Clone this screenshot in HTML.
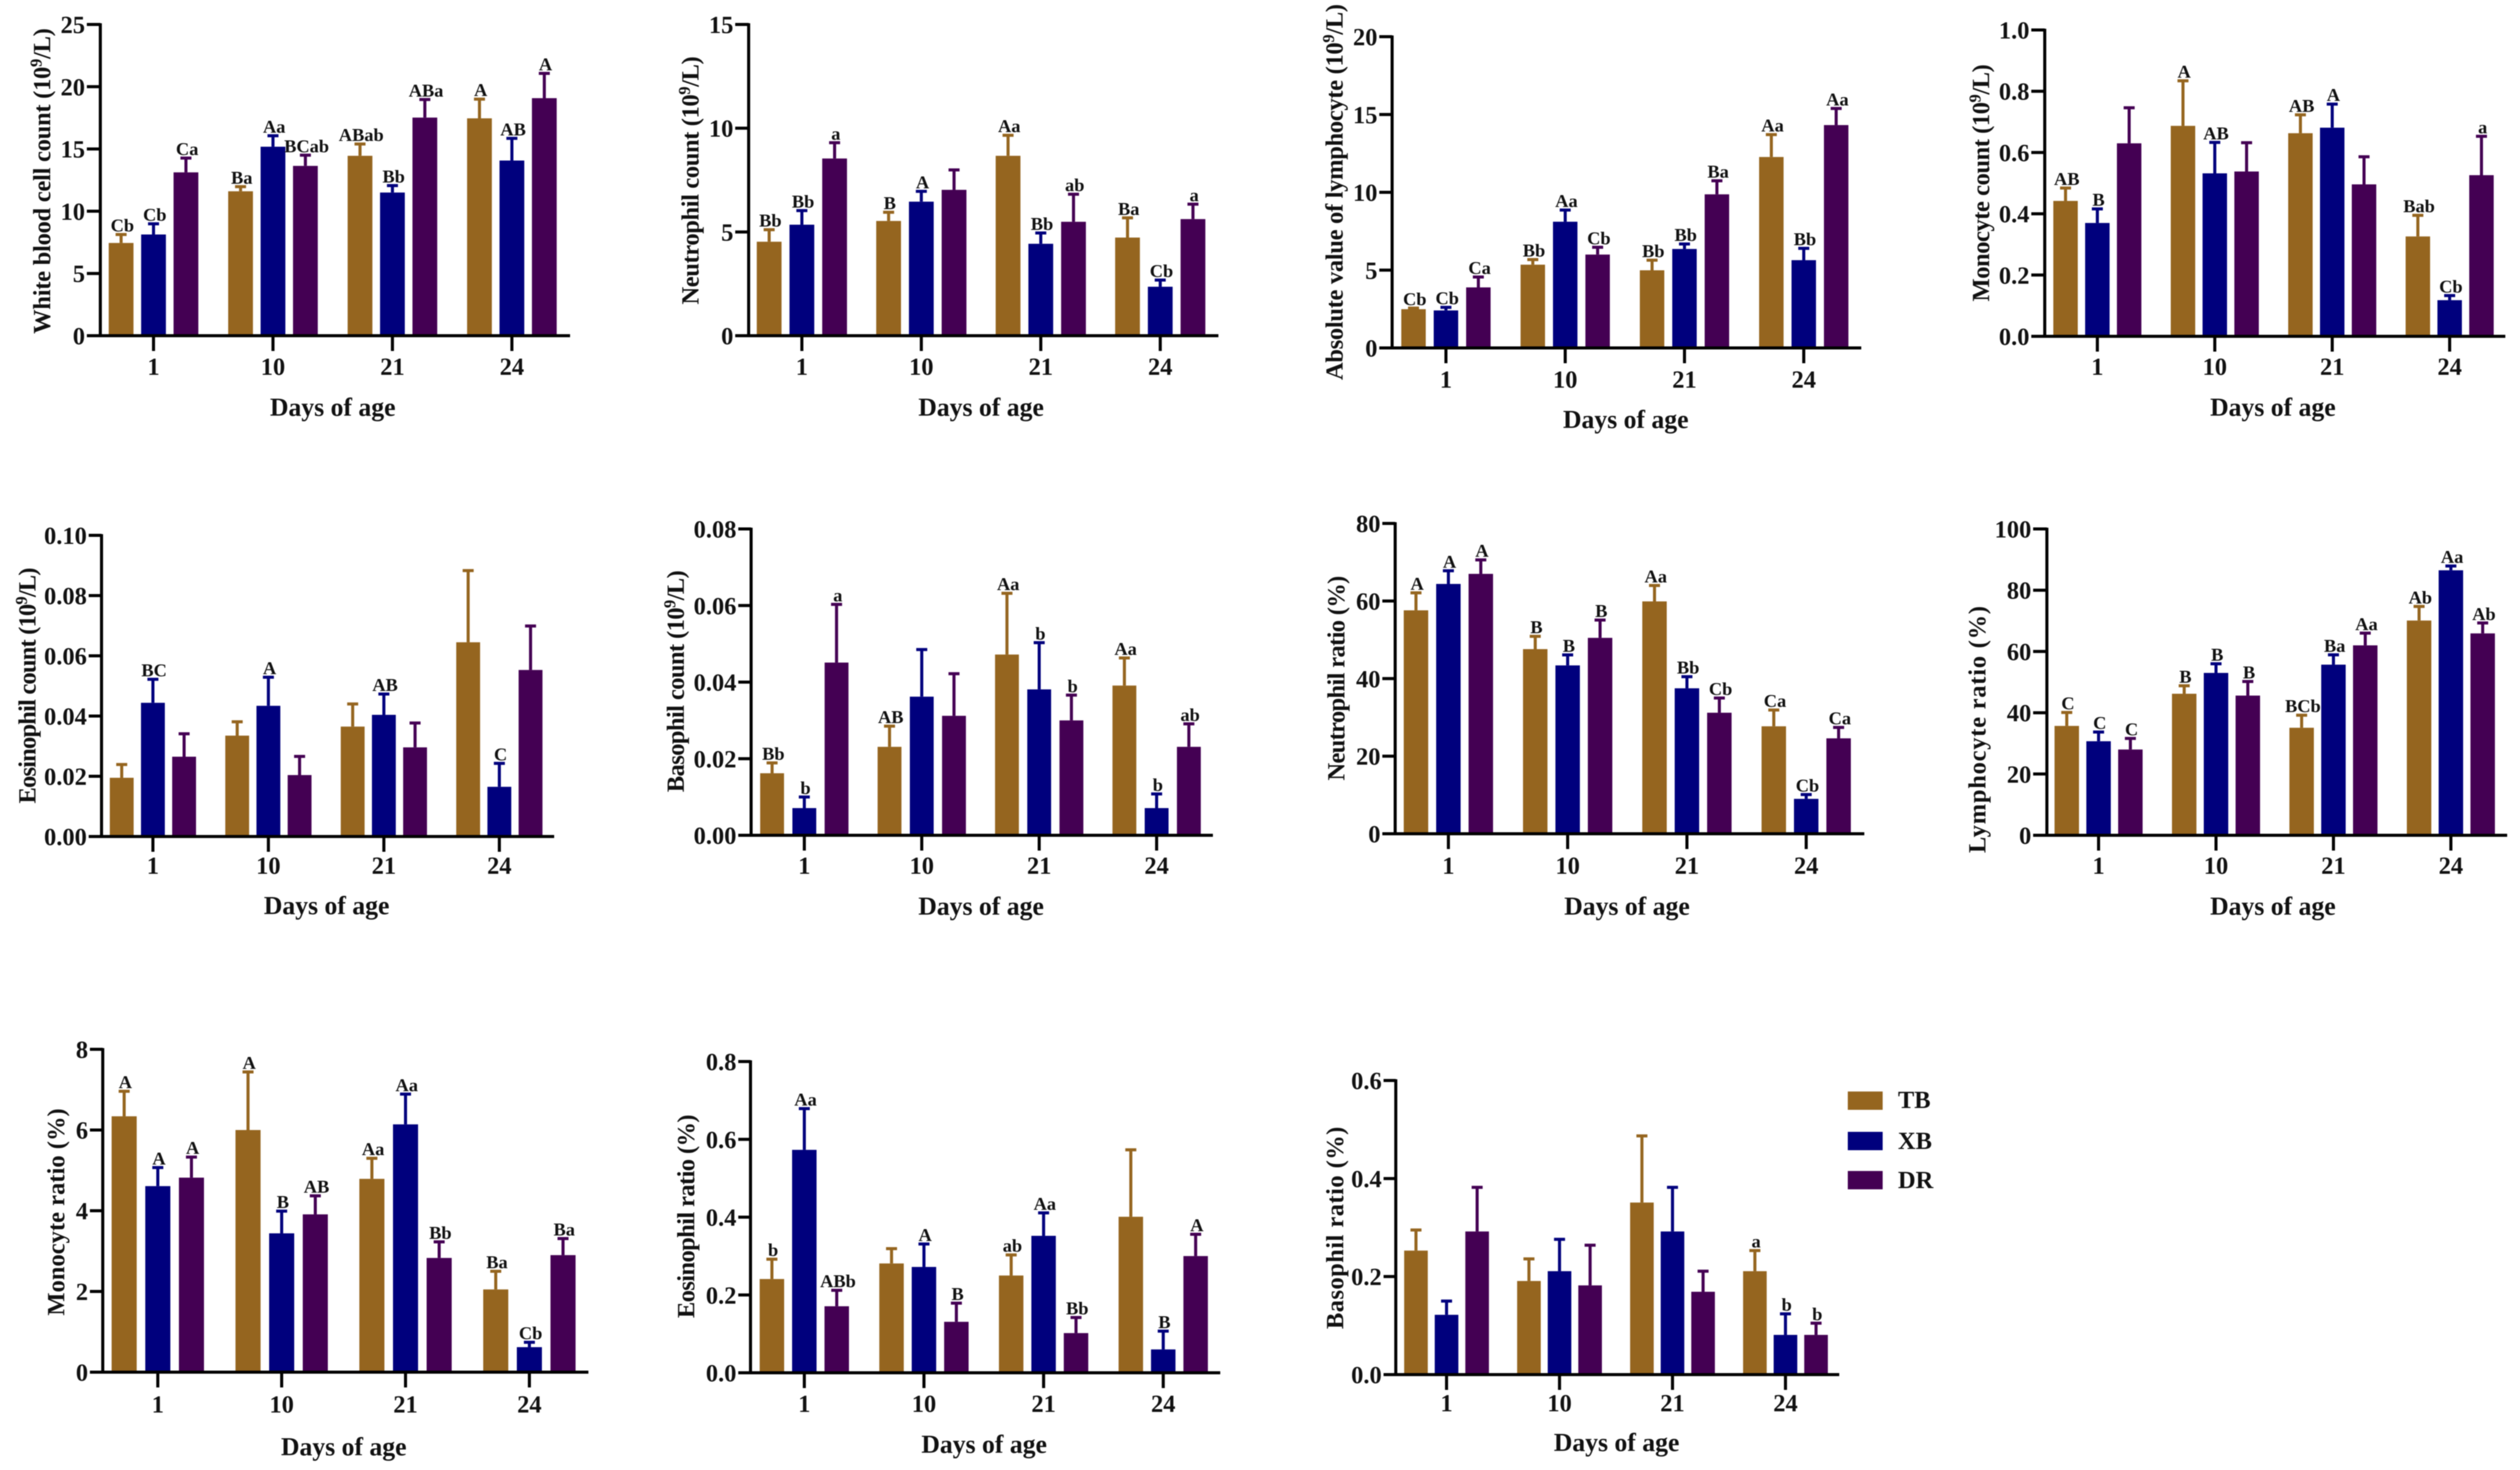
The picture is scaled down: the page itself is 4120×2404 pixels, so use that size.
<!DOCTYPE html>
<html lang="en">
<head>
<meta charset="utf-8">
<title>Blood cell counts and ratios by days of age</title>
<style>
html,body{margin:0;padding:0;background:#fff;}
svg{display:block;filter:blur(0.8px);}
text{font-family:"Liberation Serif",serif;font-weight:bold;fill:#111;}
</style>
</head>
<body>
<svg id="figure" xmlns="http://www.w3.org/2000/svg" width="4120" height="2404" viewBox="0 0 4120 2404">
<rect x="0" y="0" width="4120" height="2404" fill="#fff"/>
<g>
<g><rect x="3021" y="1785" width="57" height="30" fill="#95651f"/><text x="3103" y="1812" font-size="40">TB</text></g>
<g><rect x="3021" y="1851" width="57" height="30" fill="#00007d"/><text x="3103" y="1879" font-size="40">XB</text></g>
<g><rect x="3021" y="1915" width="57" height="30" fill="#440053"/><text x="3103" y="1943" font-size="40">DR</text></g>
</g>
</svg>
<script>
const categories = ['1', '10', '21', '24'];
const seriesNames = ['TB', 'XB', 'DR'];

const wbcTicks = ['0', '5', '10', '15', '20', '25'];
const wbcTB = [7.45, 11.6, 14.45, 17.46];
const wbcXB = [8.13, 15.18, 11.5, 14.07];
const wbcDR = [13.12, 13.64, 17.52, 19.08];
const wbcTBErr = [8.13, 11.97, 15.4, 19.0];
const wbcXBErr = [8.99, 16.06, 12.06, 15.85];
const wbcDRErr = [14.27, 14.5, 18.97, 21.07];
const wbcTBSig = ['Cb', 'Ba', 'ABab', 'A'];
const wbcXBSig = ['Cb', 'Aa', 'Bb', 'AB'];
const wbcDRSig = ['Ca', 'BCab', 'ABa', 'A'];

const neuTicks = ['0', '5', '10', '15'];
const neuTB = [4.53, 5.53, 8.67, 4.73];
const neuXB = [5.35, 6.46, 4.43, 2.36];
const neuDR = [8.54, 7.03, 5.49, 5.62];
const neuTBErr = [5.11, 5.95, 9.66, 5.68];
const neuXBErr = [6.03, 6.96, 4.95, 2.68];
const neuDRErr = [9.3, 7.99, 6.82, 6.34];
const neuTBSig = ['Bb', 'B', 'Aa', 'Ba'];
const neuXBSig = ['Bb', 'A', 'Bb', 'Cb'];
const neuDRSig = ['a', '', 'ab', 'a'];

const lymTicks = ['0', '5', '10', '15', '20'];
const lymTB = [2.49, 5.35, 4.99, 12.27];
const lymXB = [2.41, 8.11, 6.36, 5.64];
const lymDR = [3.89, 6.0, 9.87, 14.32];
const lymTBErr = [2.56, 5.68, 5.64, 13.71];
const lymXBErr = [2.61, 8.86, 6.68, 6.4];
const lymDRErr = [4.56, 6.47, 10.74, 15.39];
const lymTBSig = ['Cb', 'Bb', 'Bb', 'Aa'];
const lymXBSig = ['Cb', 'Aa', 'Bb', 'Bb'];
const lymDRSig = ['Ca', 'Cb', 'Ba', 'Aa'];

const monTicks = ['0.0', '0.2', '0.4', '0.6', '0.8', '1.0'];
const monTB = [0.442, 0.687, 0.663, 0.326];
const monXB = [0.37, 0.532, 0.681, 0.118];
const monDR = [0.63, 0.538, 0.496, 0.526];
const monTBErr = [0.484, 0.834, 0.723, 0.395];
const monXBErr = [0.416, 0.633, 0.758, 0.133];
const monDRErr = [0.746, 0.632, 0.586, 0.653];
const monTBSig = ['AB', 'A', 'AB', 'Bab'];
const monXBSig = ['B', 'AB', 'A', 'Cb'];
const monDRSig = ['', '', '', 'a'];

const eosTicks = ['0.00', '0.02', '0.04', '0.06', '0.08', '0.10'];
const eosTB = [0.0195, 0.0335, 0.0365, 0.0645];
const eosXB = [0.0444, 0.0434, 0.0404, 0.0165];
const eosDR = [0.0265, 0.0204, 0.0296, 0.0553];
const eosTBErr = [0.0239, 0.0381, 0.044, 0.0883];
const eosXBErr = [0.0522, 0.0529, 0.0473, 0.0243];
const eosDRErr = [0.0341, 0.0266, 0.0377, 0.0699];
const eosTBSig = ['', '', '', ''];
const eosXBSig = ['BC', 'A', 'AB', 'C'];
const eosDRSig = ['', '', '', ''];

const basTicks = ['0.00', '0.02', '0.04', '0.06', '0.08'];
const basTB = [0.0162, 0.0231, 0.0472, 0.0391];
const basXB = [0.0071, 0.0362, 0.0381, 0.0071];
const basDR = [0.0451, 0.0312, 0.03, 0.0231];
const basTBErr = [0.0189, 0.0285, 0.0632, 0.0463];
const basXBErr = [0.01, 0.0485, 0.0503, 0.0108];
const basDRErr = [0.0603, 0.0422, 0.0366, 0.0291];
const basTBSig = ['Bb', 'AB', 'Aa', 'Aa'];
const basXBSig = ['b', '', 'b', 'b'];
const basDRSig = ['a', '', 'b', 'ab'];

const neuRatioTicks = ['0', '20', '40', '60', '80'];
const neuRatioTB = [57.6, 47.6, 59.9, 27.7];
const neuRatioXB = [64.4, 43.4, 37.5, 9.0];
const neuRatioDR = [67, 50.5, 31.2, 24.6];
const neuRatioTBErr = [62.1, 50.9, 64, 31.9];
const neuRatioXBErr = [67.8, 46.1, 40.5, 10.1];
const neuRatioDRErr = [70.6, 55.1, 35, 27.4];
const neuRatioTBSig = ['A', 'B', 'Aa', 'Ca'];
const neuRatioXBSig = ['A', 'B', 'Bb', 'Cb'];
const neuRatioDRSig = ['A', 'B', 'Cb', 'Ca'];

const lymRatioTicks = ['0', '20', '40', '60', '80', '100'];
const lymRatioTB = [35.7, 46.2, 35.1, 70.1];
const lymRatioXB = [30.7, 53, 55.7, 86.5];
const lymRatioDR = [28, 45.6, 62, 65.9];
const lymRatioTBErr = [40.1, 48.8, 39.2, 74.7];
const lymRatioXBErr = [33.7, 56, 58.9, 87.9];
const lymRatioDRErr = [31.6, 50.2, 66, 69.3];
const lymRatioTBSig = ['C', 'B', 'BCb', 'Ab'];
const lymRatioXBSig = ['C', 'B', 'Ba', 'Aa'];
const lymRatioDRSig = ['C', 'B', 'Aa', 'Ab'];

const monRatioTicks = ['0', '2', '4', '6', '8'];
const monRatioTB = [6.34, 6, 4.79, 2.05];
const monRatioXB = [4.61, 3.44, 6.14, 0.62];
const monRatioDR = [4.82, 3.91, 2.83, 2.9];
const monRatioTBErr = [6.96, 7.44, 5.3, 2.5];
const monRatioXBErr = [5.07, 3.99, 6.89, 0.74];
const monRatioDRErr = [5.33, 4.37, 3.23, 3.31];
const monRatioTBSig = ['A', 'A', 'Aa', 'Ba'];
const monRatioXBSig = ['A', 'B', 'Aa', 'Cb'];
const monRatioDRSig = ['A', 'AB', 'Bb', 'Ba'];

const eosRatioTicks = ['0.0', '0.2', '0.4', '0.6', '0.8'];
const eosRatioTB = [0.241, 0.281, 0.25, 0.401];
const eosRatioXB = [0.573, 0.272, 0.352, 0.06];
const eosRatioDR = [0.171, 0.131, 0.102, 0.3];
const eosRatioTBErr = [0.292, 0.319, 0.303, 0.573];
const eosRatioXBErr = [0.679, 0.331, 0.411, 0.107];
const eosRatioDRErr = [0.212, 0.179, 0.142, 0.356];
const eosRatioTBSig = ['b', '', 'ab', ''];
const eosRatioXBSig = ['Aa', 'A', 'Aa', 'B'];
const eosRatioDRSig = ['ABb', 'B', 'Bb', 'A'];

const basRatioTicks = ['0.0', '0.2', '0.4', '0.6'];
const basRatioTB = [0.253, 0.191, 0.351, 0.211];
const basRatioXB = [0.122, 0.211, 0.292, 0.081];
const basRatioDR = [0.292, 0.182, 0.169, 0.081];
const basRatioTBErr = [0.295, 0.236, 0.487, 0.253];
const basRatioXBErr = [0.15, 0.276, 0.382, 0.124];
const basRatioDRErr = [0.382, 0.264, 0.211, 0.105];
const basRatioTBSig = ['', '', '', 'a'];
const basRatioXBSig = ['', '', '', 'b'];
const basRatioDRSig = ['', '', '', 'b'];

const seriesColors = ['#95651f', '#00007d', '#440053'];

const panels = [
  {key:'white-blood-cell', pre:'White blood cell count (10', sup:'9', post:'/L)', ticks:wbcTicks, means:[wbcTB,wbcXB,wbcDR], errs:[wbcTBErr,wbcXBErr,wbcDRErr], sigs:[wbcTBSig,wbcXBSig,wbcDRSig],
   spine:164, top:40, zero:549, left:142, right:932, tick0:251, step:195.3, off:53, barW:40.5, tX:68, tY:296, tLen:500, xlX:544, xlY:666, tickY:599},
  {key:'neutrophil', pre:'Neutrophil count (10', sup:'9', post:'/L)', ticks:neuTicks, means:[neuTB,neuXB,neuDR], errs:[neuTBErr,neuXBErr,neuDRErr], sigs:[neuTBSig,neuXBSig,neuDRSig],
   spine:1224, top:40, zero:549, left:1202, right:1992, tick0:1311, step:195.3, off:53.5, barW:40.5, tX:1128, tY:295, tLen:406, xlX:1604, xlY:666, tickY:599},
  {key:'lymphocyte', pre:'Absolute value of lymphocyte (10', sup:'9', post:'/L)', ticks:lymTicks, means:[lymTB,lymXB,lymDR], errs:[lymTBErr,lymXBErr,lymDRErr], sigs:[lymTBSig,lymXBSig,lymDRSig],
   spine:2276, top:60, zero:569, left:2255, right:3043, tick0:2364, step:195, off:53, barW:40, tX:2181, tY:314, tLen:615, xlX:2658, xlY:686, tickY:620},
  {key:'monocyte', pre:'Monocyte count (10', sup:'9', post:'/L)', ticks:monTicks, means:[monTB,monXB,monDR], errs:[monTBErr,monXBErr,monDRErr], sigs:[monTBSig,monXBSig,monDRSig],
   spine:3343, top:49, zero:550, left:3321, right:4096, tick0:3429, step:192, off:52, barW:40, tX:3238, tY:299, tLen:388, xlX:3716, xlY:666, tickY:599},
  {key:'eosinophil', pre:'Eosinophil count (10', sup:'9', post:'/L)', ticks:eosTicks, means:[eosTB,eosXB,eosDR], errs:[eosTBErr,eosXBErr,eosDRErr], sigs:[eosTBSig,eosXBSig,eosDRSig],
   spine:166, top:875.5, zero:1368, left:145, right:906, tick0:250, step:188.8, off:51, barW:39, tX:44, tY:1121, tLen:386, xlX:534, xlY:1481, tickY:1415},
  {key:'basophil', pre:'Basophil count (10', sup:'9', post:'/L)', ticks:basTicks, means:[basTB,basXB,basDR], errs:[basTBErr,basXBErr,basDRErr], sigs:[basTBSig,basXBSig,basDRSig],
   spine:1228, top:865, zero:1366, left:1207, right:1983, tick0:1315, step:192, off:52.7, barW:39, tX:1104, tY:1114, tLen:363, xlX:1604, xlY:1482, tickY:1415},
  {key:'neutrophil-ratio', pre:'Neutrophil ratio (%)', sup:'', post:'', ticks:neuRatioTicks, means:[neuRatioTB,neuRatioXB,neuRatioDR], errs:[neuRatioTBErr,neuRatioXBErr,neuRatioDRErr], sigs:[neuRatioTBSig,neuRatioXBSig,neuRatioDRSig],
   spine:2281, top:856, zero:1363.5, left:2260, right:3048, tick0:2368, step:195, off:53, barW:40, tX:2184, tY:1109, tLen:335, xlX:2660, xlY:1482, tickY:1415},
  {key:'lymphocyte-ratio', pre:'Lymphocyte ratio (%)', sup:'', post:'', ticks:lymRatioTicks, means:[lymRatioTB,lymRatioXB,lymRatioDR], errs:[lymRatioTBErr,lymRatioXBErr,lymRatioDRErr], sigs:[lymRatioTBSig,lymRatioXBSig,lymRatioDRSig],
   spine:3346.5, top:865, zero:1366, left:3324, right:4099, tick0:3431, step:192, off:52, barW:40, tX:3232, tY:1193, tLen:404, xlX:3716, xlY:1482, tickY:1415},
  {key:'monocyte-ratio', pre:'Monocyte ratio (%)', sup:'', post:'', ticks:monRatioTicks, means:[monRatioTB,monRatioXB,monRatioDR], errs:[monRatioTBErr,monRatioXBErr,monRatioDRErr], sigs:[monRatioTBSig,monRatioXBSig,monRatioDRSig],
   spine:168, top:1716, zero:2244, left:147, right:962, tick0:258, step:202.5, off:55, barW:41, tX:91, tY:1982, tLen:339, xlX:562, xlY:2366, tickY:2296},
  {key:'eosinophil-ratio', pre:'Eosinophil ratio (%)', sup:'', post:'', ticks:eosRatioTicks, means:[eosRatioTB,eosRatioXB,eosRatioDR], errs:[eosRatioTBErr,eosRatioXBErr,eosRatioDRErr], sigs:[eosRatioTBSig,eosRatioXBSig,eosRatioDRSig],
   spine:1227, top:1736, zero:2245, left:1207, right:1995, tick0:1315, step:195.6, off:53, barW:40, tX:1121, tY:1989, tLen:333, xlX:1609, xlY:2362, tickY:2295},
  {key:'basophil-ratio', pre:'Basophil ratio (%)', sup:'', post:'', ticks:basRatioTicks, means:[basRatioTB,basRatioXB,basRatioDR], errs:[basRatioTBErr,basRatioXBErr,basRatioDRErr], sigs:[basRatioTBSig,basRatioXBSig,basRatioDRSig],
   spine:2282, top:1767, zero:2248, left:2262, right:3007, tick0:2365, step:184.7, off:50, barW:38.6, tX:2182, tY:2008, tLen:331, xlX:2643, xlY:2359, tickY:2294}
];

const NS = 'http://www.w3.org/2000/svg';
const root = document.getElementById('figure');

function make(tag, attrs, parent) {
  const el = document.createElementNS(NS, tag);
  for (const k in attrs) el.setAttribute(k, attrs[k]);
  parent.appendChild(el);
  return el;
}

function yScale(p, v) {
  const max = parseFloat(p.ticks[p.ticks.length - 1]);
  return p.zero - (v / max) * (p.zero - p.top);
}

function xScale(p, catIndex, seriesIndex) {
  return p.tick0 + catIndex * p.step + (seriesIndex - 1) * p.off;
}

function drawBars(p, g) {
  p.means.forEach(function (vals, s) {
    vals.forEach(function (v, c) {
      const cx = xScale(p, c, s);
      const yTop = yScale(p, v);
      const bar = make('rect', {x: cx - p.barW / 2, y: yTop, width: p.barW, height: p.zero - yTop, fill: seriesColors[s]}, g);
      
      

      const yErr = yScale(p, p.errs[s][c]);
      const stem = make('line', {x1: cx, x2: cx, y1: yTop, y2: yErr, stroke: seriesColors[s], 'stroke-width': 5}, g);
      
      
      const cap = make('line', {x1: cx - 9, x2: cx + 9, y1: yErr, y2: yErr, stroke: seriesColors[s], 'stroke-width': 5}, g);
      
      

      const sig = p.sigs[s][c];
      if (sig) {
        const lab = make('text', {x: cx + 2, y: yErr - 5, 'text-anchor': 'middle', 'font-size': 30}, g);
        lab.textContent = sig;
        
        
      }
    });
  });
}

function drawAxes(p, g) {
  const yAxis = make('line', {x1: p.spine, x2: p.spine, y1: p.top - 2, y2: p.zero + 2, stroke: '#000', 'stroke-width': 5}, g);
  
  
  const xAxis = make('line', {x1: p.left, x2: p.right, y1: p.zero, y2: p.zero, stroke: '#000', 'stroke-width': 5}, g);
  
  

  p.ticks.forEach(function (t) {
    const y = yScale(p, parseFloat(t));
    const mark = make('line', {x1: p.left, x2: p.spine, y1: y, y2: y, stroke: '#000', 'stroke-width': 5}, g);
    
    
    const lab = make('text', {x: p.left - 3, y: y + 14, 'text-anchor': 'end', 'font-size': 40}, g);
    lab.textContent = t;
    
    
  });

  categories.forEach(function (cat, c) {
    const x = xScale(p, c, 1);
    const mark = make('line', {x1: x, x2: x, y1: p.zero, y2: p.zero + 25, stroke: '#000', 'stroke-width': 5}, g);
    
    
    const lab = make('text', {x: x, y: p.tickY + 14, 'text-anchor': 'middle', 'font-size': 40}, g);
    lab.textContent = cat;
    
    
  });

  const xTitle = make('text', {x: p.xlX, y: p.xlY + 14, 'text-anchor': 'middle', 'font-size': 42}, g);
  xTitle.textContent = 'Days of age';
  
  

  const yTitle = make('text', {transform: 'translate(' + p.tX + ',' + p.tY + ') rotate(-90)', 'text-anchor': 'middle', 'font-size': 40, y: 14, textLength: p.tLen}, g);
  
  
  yTitle.appendChild(document.createTextNode(p.pre));
  if (p.sup) {
    const supEl = make('tspan', {dy: -14, 'font-size': 27}, yTitle);
    supEl.textContent = p.sup;
    const postEl = make('tspan', {dy: 14}, yTitle);
    postEl.textContent = p.post;
  }
}

panels.forEach(function (p) {
  const g = make('g', {}, root);
  
  
  drawBars(p, g);
  drawAxes(p, g);
});
</script>
</body>
</html>
